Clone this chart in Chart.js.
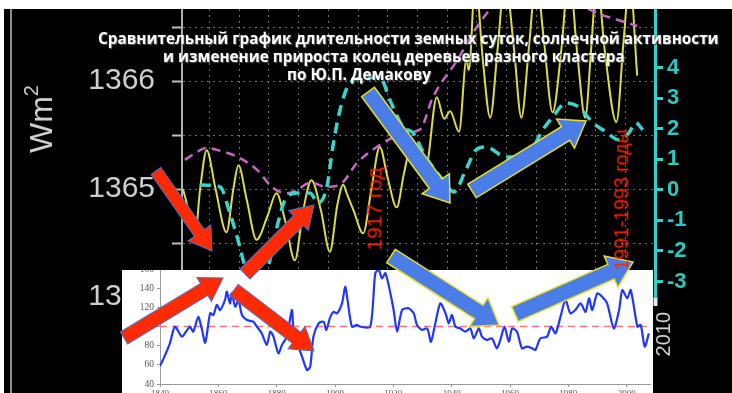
<!DOCTYPE html>
<html lang="ru">
<head>
<meta charset="utf-8">
<title>Сравнительный график</title>
<script src="https://cdn.jsdelivr.net/npm/chart.js"></script>
<style>
  html, body { margin: 0; padding: 0; }
  body { width: 732px; height: 393px; position: relative; overflow: hidden; background: #fff; font-family: 'Liberation Sans', Arial, sans-serif; }
  #panel { position: absolute; left: 4px; top: 9px; width: 728px; height: 384px; background: #000; }
  #frameLine { position: absolute; left: 10px; top: 9px; width: 2px; height: 384px; background: #8c8c8c; }
  #topChart { position: absolute; left: 4px; top: 9px; }
  #insetBox { position: absolute; left: 122px; top: 270px; width: 531px; height: 123px; background: #fff; overflow: hidden; }
  #insetChart { position: absolute; left: 0; top: -10px; }
  #marks { position: absolute; left: 0; top: 0; }
  .lbl { position: absolute; white-space: nowrap; line-height: 1; transform: translate(-50%, -50%) rotate(-90deg); }
  .title { position: absolute; white-space: nowrap; color: #fff; font: 700 15.3px 'Open Sans', sans-serif; line-height: 18px; text-shadow: 1px 1px 1px #555; }
</style>
</head>
<body>
<div id="panel"></div>
<div id="frameLine"></div>
<canvas id="topChart" width="728" height="384"></canvas>
<div id="insetBox"><canvas id="insetChart" width="531" height="133"></canvas></div>
<canvas id="marks" width="732" height="393"></canvas>

<div class="lbl" style="left:41px;top:119px;color:#d2d2d2;font-size:32px;">Wm<span style="font-size:0.62em;position:relative;top:-0.7em">2</span></div>
<div class="title" style="left:98px;top:29px">Сравнительный график длительности земных суток, солнечной активности</div>
<div class="title" style="left:163px;top:47px">и изменение прироста колец деревьев разного кластера</div>
<div class="title" style="left:287px;top:65px">по Ю.П. Демакову</div>
<div class="lbl" style="left:374px;top:209px;color:#ff2400;font-size:21px;">1917 год</div>
<div class="lbl" style="left:622px;top:200px;color:#ff2400;font-size:19.5px;">1991-1993 годы</div>

<script>
// solar irradiance (left axis, W/m2)
const tsiYears = [1851, 1852, 1853.5, 1855.2, 1856.8, 1859, 1862, 1865.7, 1868, 1869.7, 1872.5, 1875.8, 1879.5, 1882.5, 1885.5, 1888.7, 1891.5, 1894.3, 1897.5, 1900.5, 1903, 1905, 1906.3, 1908.5, 1911.7, 1914.5, 1917.3, 1920, 1923, 1925.5, 1927.5, 1930, 1932.8, 1936.5, 1939, 1941, 1944, 1946.5, 1947.3, 1949.5, 1952, 1954.5, 1957, 1959.5, 1962.5, 1965, 1967.5, 1970, 1972.5, 1975.5, 1978.5, 1981, 1984, 1986.5, 1988.5, 1990.5, 1993, 1997, 1999.5, 2001.5, 2004];
const tsiValues = [1365.0, 1364.9, 1364.72, 1364.6, 1365.0, 1365.36, 1365.0, 1364.6, 1365.0, 1365.22, 1364.9, 1364.53, 1364.75, 1364.96, 1364.7, 1364.34, 1364.8, 1365.08, 1364.8, 1364.42, 1364.85, 1365.04, 1364.95, 1364.8, 1364.59, 1365.0, 1365.39, 1365.1, 1364.83, 1365.15, 1365.36, 1365.25, 1365.2, 1365.85, 1365.65, 1365.72, 1365.53, 1366.2, 1366.1, 1366.95, 1366.2, 1365.66, 1366.3, 1366.95, 1366.3, 1365.66, 1366.3, 1366.95, 1366.4, 1365.71, 1366.3, 1367.0, 1366.2, 1365.66, 1366.3, 1366.95, 1366.3, 1365.62, 1366.4, 1366.95, 1366.05];

// smoothed envelope (magenta, left axis)
const envYears = [1851.7, 1855, 1859.1, 1864, 1869.2, 1875.9, 1881.3, 1886, 1890, 1893.8, 1899.5, 1903.9, 1909.6, 1916.3, 1920.5, 1925.1, 1930.8, 1935.2, 1943.3, 1950, 1955.4, 1962, 1970, 1978, 1984, 1990.4, 1997, 2004];
const envValues = [1365.27, 1365.33, 1365.38, 1365.35, 1365.3, 1365.18, 1365.01, 1364.96, 1365.0, 1365.06, 1365.02, 1365.04, 1365.24, 1365.39, 1365.46, 1365.52, 1365.55, 1365.85, 1366.19, 1366.5, 1366.69, 1366.8, 1366.86, 1366.8, 1366.72, 1366.63, 1366.57, 1366.51];

// length of day anomaly (cyan, right axis)
const lodYears = [1856.7, 1863.5, 1866.8, 1870.2, 1871.9, 1876, 1879.5, 1882.7, 1885.4, 1889.4, 1893.8, 1896.5, 1899.5, 1901.5, 1903.9, 1907.2, 1911.6, 1917.3, 1920.7, 1925.1, 1928.5, 1932.8, 1938.6, 1942.3, 1946.3, 1949.7, 1953, 1959.8, 1966.5, 1972.2, 1975.6, 1980, 1984.3, 1989.1, 1993.5, 1997.8, 2001.2, 2003.5, 2005.9];
const lodValues = [0.16, 0.1, -0.75, -1.87, -2.52, -3.3, -2.6, -1.21, -0.33, -0.1, -0.1, -0.43, 0.1, 1.41, 2.62, 3.5, 3.67, 3.7, 2.95, 2.07, 1.87, 1.08, 0.33, -0.07, 0.66, 1.31, 1.41, 1.08, 1.08, 1.97, 2.39, 2.85, 2.72, 2.2, 1.9, 1.64, 1.87, 2.2, 1.97];

// tree ring growth index (inset)
const ringYears = [1840, 1841, 1843.4, 1845.1, 1847.5, 1849.2, 1850.3, 1851.4, 1853.1, 1854.3, 1855.5, 1857.2, 1858.3, 1859.5, 1860.6, 1862.3, 1862.9, 1864, 1864.6, 1865.8, 1866.9, 1868.1, 1869.8, 1872, 1873.2, 1874.9, 1876.6, 1877.8, 1878.9, 1880.6, 1881.8, 1883.5, 1885.2, 1885.8, 1887.5, 1888.7, 1890.4, 1891.5, 1892.6, 1894.4, 1896.1, 1897, 1898.4, 1899.5, 1900.7, 1902.4, 1903.5, 1904.3, 1905.8, 1907.5, 1908.7, 1912.1, 1913.8, 1915, 1916.1, 1917.3, 1919, 1920.1, 1921.3, 1923, 1925.2, 1927, 1928.1, 1929.8, 1931.6, 1932.9, 1934.4, 1936.1, 1937.9, 1939, 1940.1, 1941.3, 1943, 1944.7, 1946.4, 1947.6, 1949.3, 1950.4, 1952.1, 1953.8, 1955.5, 1956.7, 1958.1, 1959.6, 1960.7, 1962.4, 1964.1, 1965.8, 1967.6, 1968.7, 1970.4, 1972.7, 1974.1, 1975.6, 1977.3, 1979, 1980.7, 1982.4, 1984.2, 1985.9, 1987.1, 1988.2, 1989.9, 1991.6, 1993.3, 1995.6, 1997.4, 1998.5, 2000.2, 2001.4, 2003.7, 2004.8, 2006.2, 2007.6];
const ringValues = [58.8, 65, 82.5, 99.8, 89.4, 96, 99.8, 94.6, 110, 98, 83.1, 113.8, 112, 122.5, 117.2, 127.7, 136.3, 124, 134.5, 120.7, 127.7, 112, 106.8, 105, 99.8, 92.8, 80.7, 94.6, 89.4, 72, 80.7, 89.4, 117.2, 96.4, 79, 68.5, 54.6, 58, 89.4, 103.3, 105, 96.4, 110, 115.3, 113.7, 124.1, 141.5, 127.7, 99.8, 101.6, 99.8, 99.8, 155.6, 159, 150.3, 155.6, 134.5, 117.2, 94.6, 117.2, 119, 113.7, 101.6, 96.4, 98, 84.1, 103.3, 124.1, 113.7, 103.3, 112, 99.8, 98, 94.6, 98, 87.6, 98, 89.4, 86, 87.6, 77.2, 86, 99.8, 84.1, 98, 94.6, 77.2, 79, 77.2, 75.5, 87.6, 89.4, 99.8, 92.8, 110, 127.7, 113.7, 117.2, 124.1, 115.3, 129.4, 117.2, 134.5, 131.1, 124.1, 98, 117.2, 138, 129.4, 138, 99.8, 101.6, 79, 92.8];
const ringMean = 100;

const leftTicks = [1364, 1365, 1366];
const rightTicks = [-3, -2, -1, 0, 1, 2, 3, 4];

const pts = (xs, ys) => xs.map((x, i) => ({ x: x, y: ys[i] }));

Chart.defaults.font.family = "'Liberation Sans', Arial, sans-serif";

const topChart = new Chart(document.getElementById('topChart'), {
    type: 'line',
    data: {
        datasets: [{
            data: pts(lodYears, lodValues),
            yAxisID: 'y2',
            borderColor: '#36d6cf',
            borderWidth: 3.5,
            borderDash: [11, 7],
            pointRadius: 0,
            cubicInterpolationMode: 'monotone'
        }, {
            data: pts(envYears, envValues),
            yAxisID: 'y',
            borderColor: '#c866c8',
            borderWidth: 2.5,
            borderDash: [9, 6],
            pointRadius: 0,
            cubicInterpolationMode: 'monotone'
        }, {
            data: pts(tsiYears, tsiValues),
            yAxisID: 'y',
            borderColor: '#dcdc48',
            borderWidth: 2,
            pointRadius: 0,
            cubicInterpolationMode: 'monotone'
        }]
    },
    options: {
        responsive: false,
        animation: false,
        events: [],
        layout: { padding: 0 },
        plugins: { legend: { display: false }, tooltip: { enabled: false } },
        scales: {
            x: {
                type: 'linear',
                min: 1850.7,
                max: 2010,
                afterFit: (s) => { s.height = 96; s.paddingLeft = 0; s.paddingRight = 0; },
                grid: { color: '#6e6e6e', tickColor: '#e8e8e8', tickLength: 9, tickWidth: 4, tickBorderDash: [] },
                border: { display: false, dash: [2, 4] },
                ticks: {
                    stepSize: 10, includeBounds: false, autoSkip: false,
                    minRotation: 90, maxRotation: 90, labelOffset: 9, padding: 6,
                    color: '#d0d0d0', font: { size: 20 },
                    callback: (v) => String(v)
                }
            },
            y: {
                position: 'left',
                min: 1364,
                max: 1366.667,
                afterFit: (s) => { s.width = 178; s.paddingTop = 0; s.paddingBottom = 0; },
                grid: { color: '#6e6e6e', tickColor: '#bdbdbd', tickLength: 10, tickWidth: 2, tickBorderDash: [] },
                border: { color: '#b0b0b0', width: 2, dash: [2, 4] },
                ticks: {
                    stepSize: 0.5, includeBounds: false, padding: 17,
                    color: '#cfcfcf', font: { size: 30 },
                    callback: (v) => leftTicks.includes(v) ? String(v) : ''
                }
            },
            y2: {
                position: 'right',
                min: -3.51,
                max: 5.93,
                afterFit: (s) => { s.width = 77; s.paddingTop = 0; s.paddingBottom = 0; },
                grid: { drawOnChartArea: false, tickColor: '#2fd3cf', tickLength: 8, tickWidth: 3 },
                border: { color: '#2fd3cf', width: 3 },
                ticks: {
                    stepSize: 1, includeBounds: false, padding: 4,
                    color: '#2ec8c0', font: { size: 22, weight: 'bold' },
                    callback: (v) => rightTicks.includes(v) ? String(v) : null
                }
            }
        }
    }
});

// ========================

const insetChart = new Chart(document.getElementById('insetChart'), {
    type: 'line',
    data: {
        datasets: [{
            data: pts(ringYears, ringValues),
            borderColor: '#1f36ff',
            borderWidth: 2.2,
            pointRadius: 0,
            tension: 0.25
        }, {
            data: [{ x: ringYears[0], y: ringMean }, { x: 2008, y: ringMean }],
            borderColor: '#ff7070',
            borderWidth: 1.3,
            borderDash: [7, 5],
            pointRadius: 0
        }]
    },
    options: {
        responsive: false,
        animation: false,
        events: [],
        layout: { padding: { top: 9, right: 3, left: 0, bottom: 0 } },
        plugins: { legend: { display: false }, tooltip: { enabled: false } },
        scales: {
            x: {
                type: 'linear',
                min: 1840,
                max: 2008,
                afterFit: (s) => { s.height = 9; s.paddingLeft = 0; s.paddingRight = 0; },
                grid: { drawOnChartArea: false, tickLength: 3, tickColor: '#999' },
                border: { color: '#9a9a9a', width: 1 },
                ticks: {
                    stepSize: 20, includeBounds: false, autoSkip: false, maxRotation: 0, padding: 1,
                    color: '#555', font: { size: 9, family: "'Liberation Serif', serif" },
                    callback: (v) => String(v)
                }
            },
            y: {
                min: 40,
                max: 160,
                afterFit: (s) => { s.width = 38; s.paddingTop = 0; s.paddingBottom = 0; },
                grid: { drawOnChartArea: false, tickLength: 3, tickColor: '#999' },
                border: { color: '#9a9a9a', width: 1 },
                ticks: {
                    stepSize: 20, padding: 3,
                    color: '#555', font: { size: 9.5, family: "'Liberation Serif', serif" }
                }
            }
        }
    }
});

// ======================== arrows

const redArrows = [
    [156, 171, 212, 251, 12],
    [124, 338, 223, 278, 14],
    [245, 274, 314, 205, 14],
    [234, 290, 314, 351, 14]
];
const blueArrows = [
    [368, 92, 450, 203],
    [472, 191, 586, 121],
    [391, 256, 499, 325],
    [515, 314, 633, 262]
];

const mctx = document.getElementById('marks').getContext('2d');

function arrow(x1, y1, x2, y2, shaft, head, headLen, fill, stroke, lw) {
    const ang = Math.atan2(y2 - y1, x2 - x1);
    const len = Math.hypot(x2 - x1, y2 - y1);
    mctx.save();
    mctx.translate(x1, y1);
    mctx.rotate(ang);
    mctx.beginPath();
    mctx.moveTo(0, -shaft / 2);
    mctx.lineTo(len - headLen, -shaft / 2);
    mctx.lineTo(len - headLen, -head / 2);
    mctx.lineTo(len, 0);
    mctx.lineTo(len - headLen, head / 2);
    mctx.lineTo(len - headLen, shaft / 2);
    mctx.lineTo(0, shaft / 2);
    mctx.closePath();
    mctx.fillStyle = fill;
    mctx.fill();
    mctx.lineWidth = lw;
    mctx.strokeStyle = stroke;
    mctx.stroke();
    mctx.restore();
}

redArrows.forEach(a => arrow(a[0], a[1], a[2], a[3], a[4], 28, 22, '#ff2a00', '#4a70c8', 1));
blueArrows.forEach(a => arrow(a[0], a[1], a[2], a[3], 16, 34, 24, '#4a7de8', '#e6dc28', 1.5));
</script>
</body>
</html>
